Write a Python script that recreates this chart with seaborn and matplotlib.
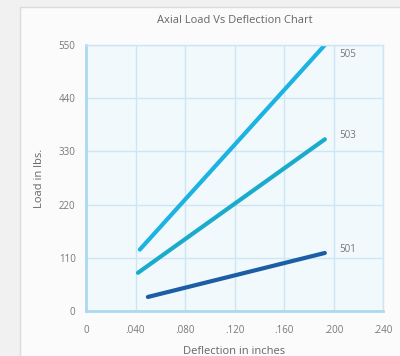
import pandas as pd
import seaborn as sns
import matplotlib.pyplot as plt
from matplotlib.patches import Rectangle

# values
series_names = ["505", "503", "501"]
deflection_505 = [0.0435, 0.193]
load_505 = [127, 550]
deflection_503 = [0.042, 0.193]
load_503 = [79, 355]
deflection_501 = [0.050, 0.193]
load_501 = [29, 120]

x_ticks = [0, 0.04, 0.08, 0.12, 0.16, 0.20, 0.24]
x_tick_labels = ["0", ".040", ".080", ".120", ".160", ".200", ".240"]
y_ticks = [0, 110, 220, 330, 440, 550]

colors = {"505": "#1cb2e2", "503": "#1aabcc", "501": "#1c5ea6"}

df = pd.concat([
    pd.DataFrame({"Deflection": deflection_505, "Load": load_505, "Model": "505"}),
    pd.DataFrame({"Deflection": deflection_503, "Load": load_503, "Model": "503"}),
    pd.DataFrame({"Deflection": deflection_501, "Load": load_501, "Model": "501"}),
])

sns.set_style("white")
plt.rcParams['font.family'] = ['Open Sans', 'DejaVu Sans']

f = plt.figure(figsize=(4, 3.56), dpi=100)
f.patch.set_facecolor("#f1f1f1")
# light inner card behind the axes
card = Rectangle((0.05, -0.05), 0.96, 1.03, transform=f.transFigure,
                 facecolor="#fbfbfb", edgecolor="#dcdcdc", lw=1, zorder=-10)
f.add_artist(card)

ax1 = f.add_axes([0.215, 0.1264, 0.7425, 0.7472])
ax1.set_facecolor("#f1f9fd")

ax1 = sns.lineplot(data=df, x="Deflection", y="Load", hue="Model",
                   palette=colors, linewidth=3.0, legend=False, ax=ax1,
                   solid_capstyle="round")

for name, xs, ys in [("505", deflection_505, load_505),
                     ("503", deflection_503, load_503),
                     ("501", deflection_501, load_501)]:
    ax1.text(0.2045, ys[-1] - 20 if name == "505" else ys[-1] + 8, name,
             fontsize=7, color="#777777", va="center")

ax1.set_xlim(0, 0.24)
ax1.set_ylim(0, 550)
ax1.set_xticks(x_ticks)
ax1.set_xticklabels(x_tick_labels)
ax1.set_yticks(y_ticks)
ax1.grid(True, color="#cbe7f4", linewidth=1)
ax1.set_axisbelow(True)
for side in ["top", "right"]:
    ax1.spines[side].set_color("#cbe7f4")
    ax1.spines[side].set_linewidth(1)
for side in ["left", "bottom"]:
    ax1.spines[side].set_color("#acd9ef")
    ax1.spines[side].set_linewidth(2)
ax1.tick_params(axis='both', labelsize=7, labelcolor="#777777", color="#acd9ef",
                length=4, width=1.5, direction="out")
ax1.tick_params(axis='x', pad=6)

ax1.set_xlabel("Deflection in inches", fontsize=8, color="#666666", labelpad=7)
ax1.set_ylabel("Load in lbs.", fontsize=8, color="#666666", labelpad=10)
ax1.set_title("Axial Load Vs Deflection Chart", fontsize=8, color="#666666", pad=16)

f.savefig("out.png", dpi=100, facecolor=f.get_facecolor())
